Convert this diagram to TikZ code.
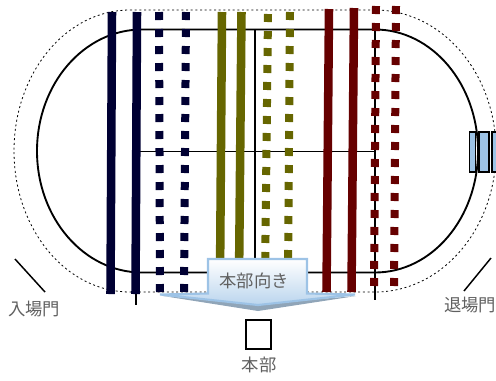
\documentclass[tikz,border=0pt]{standalone}
\usepackage{fontspec}
\newfontfamily\cjk{Noto Sans CJK JP}[Scale=1]
\definecolor{navybar}{HTML}{000033}
\definecolor{olivebar}{HTML}{666600}
\definecolor{maroonbar}{HTML}{660000}
\definecolor{gatefill}{HTML}{9DC3E6}
\definecolor{labelgray}{HTML}{606060}
\tikzset{
  trackline/.style={draw=black,line width=1.4pt},
  outerline/.style={draw=black,line width=0.6pt,dash pattern=on 1.5pt off 2pt},
  thinline/.style={draw=black,line width=1.1pt},
  bar/.style={line width=6.4pt},
  dotbar/.style={line width=6pt,dash pattern=on 6pt off 6.75pt},
  gate/.style={draw=black,line width=1.2pt,fill=gatefill},
  jlabel/.style={text=labelgray,font=\cjk\fontsize{13pt}{15pt}\selectfont,inner sep=0pt},
}
\begin{document}
\begin{tikzpicture}[x=0.75pt,y=-0.75pt]
\useasboundingbox (0,0) rectangle (496,380);
% outer dashed track
\draw[outerline] (130,10) -- (375,10) arc[start angle=-90,end angle=90,x radius=121,y radius=141]
  -- (130,292) arc[start angle=90,end angle=270,x radius=116,y radius=141] -- cycle;
% inner track
\draw[trackline] (142,29.5) -- (375,29.5) arc[start angle=-90,end angle=90,x radius=103,y radius=121.5]
  -- (142,272.5) arc[start angle=90,end angle=270,x radius=105,y radius=121.5] -- cycle;
% field lines
\draw[thinline] (137,151.5) -- (375,151.5);
\draw[thinline] (255,29.5) -- (255,272);
\draw[thinline] (136,29.5) -- (136,305);
\draw[thinline] (375,29.5) -- (375,300);
% gates
\draw[gate] (469.5,132) rectangle (475.5,172);
\draw[gate] (479,132) rectangle (489,172);
\draw[gate] (492,132) rectangle (500,172);
% bars
\draw[navybar,bar] (112,12) -- (110.5,294);
\draw[navybar,bar] (137,12) -- (135.5,294);
\draw[navybar,dotbar] (159,12) -- (160,292);
\draw[navybar,dotbar] (186,12) -- (184,292);
\draw[olivebar,bar] (222,12) -- (220,280);
\draw[olivebar,bar] (241.5,12) -- (239,280);
\draw[olivebar,dotbar] (268,14) -- (265,280);
\draw[olivebar,dotbar] (290,12) -- (288,280);
\draw[maroonbar,bar] (329,9) -- (326.5,292);
\draw[maroonbar,bar] (354,8) -- (351.5,292);
\draw[maroonbar,dotbar] (376,6) -- (374,290);
\draw[maroonbar,dotbar] (396,6) -- (394,290);
% facing arrow
\fill[gatefill!55!gray] (163,296) -- (258,304) -- (356,296) -- (258,311) -- cycle;
\path[draw=gatefill,line width=1.6pt,top color=white,bottom color=gatefill!70]
  (208,259) -- (307,259) -- (307,293.5) -- (355,294.5) -- (258,305) -- (160,294.5) -- (208,293.5) -- cycle;
\node[jlabel] (dir) at (254,281) {本部向き};
% headquarters
\node[draw=black,line width=1.2pt,minimum width=18.75pt,minimum height=21.75pt,inner sep=0pt] (hq) at (258.5,334.5) {};
\node[jlabel] (hqlabel) at (259,365) {本部};
% gates labels
\coordinate (ina) at (15,259);
\coordinate (inb) at (45,292);
\coordinate (outa) at (464,291);
\coordinate (outb) at (491,258);
\draw[thinline] (ina) -- (inb);
\draw[thinline] (outa) -- (outb);
\node[jlabel] (inlabel) at (34,309) {入場門};
\node[jlabel] (outlabel) at (470,305) {退場門};
\end{tikzpicture}
\end{document}
